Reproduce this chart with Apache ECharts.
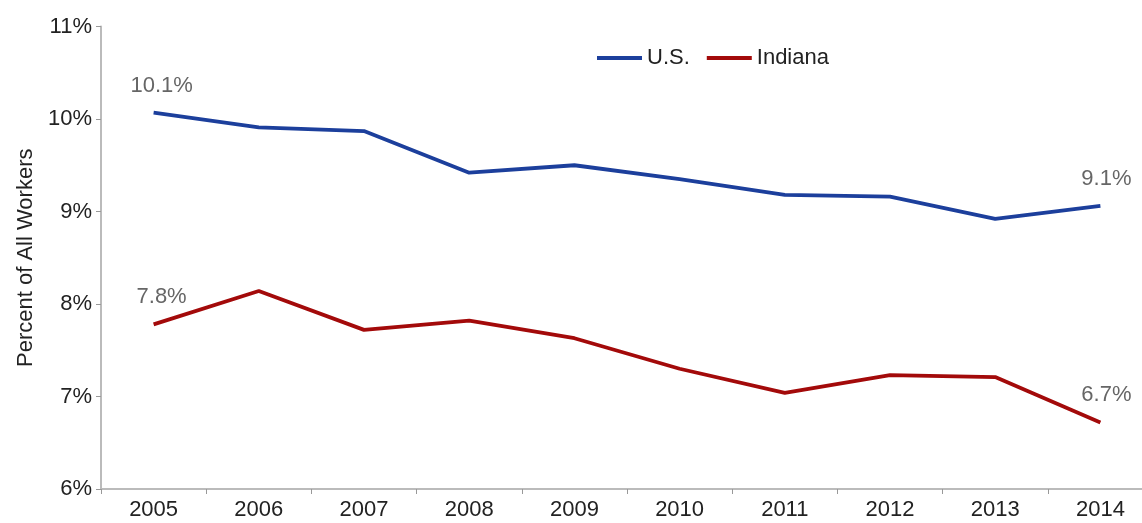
<!DOCTYPE html>
<html><head><meta charset="utf-8">
<script src="https://cdn.jsdelivr.net/npm/echarts@6/dist/echarts.min.js"></script>
<style>html,body{margin:0;padding:0;background:#fff;overflow:hidden;width:1142px;height:523px}#c{width:1153px;height:523px}</style>
</head><body><div id="c"></div>
<script>
const years = ['2005','2006','2007','2008','2009','2010','2011','2012','2013','2014'];
const usValues = [10.07, 9.91, 9.87, 9.42, 9.50, 9.35, 9.18, 9.16, 8.92, 9.06];
const indianaValues = [7.78, 8.14, 7.72, 7.82, 7.63, 7.30, 7.04, 7.23, 7.21, 6.72];
const labelledIdx = [0, 9];

const font = 'Liberation Sans, Arial, Helvetica, sans-serif';
function mkSeries(name, vals, color) {
  return {
    name, type: 'line', data: vals.map((v, i) => labelledIdx.includes(i) ? {
      value: v, label: { show: true, position: 'top', distance: 16, offset: [i === 0 ? 8 : 6, 0],
        formatter: p => p.value.toFixed(1) + '%', color: '#666', fontSize: 22, fontFamily: font }
    } : v),
    symbol: 'circle', symbolSize: 0, showSymbol: true,
    lineStyle: { color, width: 3.8 }, itemStyle: { color }, animation: false
  };
}
const chart = echarts.init(document.getElementById('c'));
chart.setOption({
  animation: false,
  grid: { left: 101, right: 0, top: 26.5, bottom: 34 },
  legend: {
    top: 42, left: 592, itemWidth: 45, itemHeight: 4, itemGap: 17,
    textStyle: { fontSize: 22, color: '#222', fontFamily: font },
    data: [{ name: 'U.S.', icon: 'rect' }, { name: 'Indiana', icon: 'rect' }]
  },
  xAxis: {
    type: 'category', data: years, boundaryGap: true,
    axisLine: { lineStyle: { color: '#bbb', width: 2 } },
    axisTick: { show: true, length: 5, lineStyle: { color: '#999' } },
    axisLabel: { fontSize: 22, color: '#222', fontFamily: font, margin: 10 }
  },
  yAxis: {
    type: 'value', min: 6, max: 11, interval: 1,
    name: 'Percent of All Workers', nameLocation: 'middle', nameGap: 58,
    nameTextStyle: { fontSize: 22, color: '#222', fontFamily: font },
    splitLine: { show: false },
    axisLine: { show: true, lineStyle: { color: '#bbb', width: 2 } },
    axisTick: { show: true, length: 5, lineStyle: { color: '#999' } },
    axisLabel: { formatter: '{value}%', fontSize: 22, color: '#222', fontFamily: font, margin: 9 }
  },
  series: [mkSeries('U.S.', usValues, '#1c3f9c'), mkSeries('Indiana', indianaValues, '#a30a0a')]
});
</script></body></html>
